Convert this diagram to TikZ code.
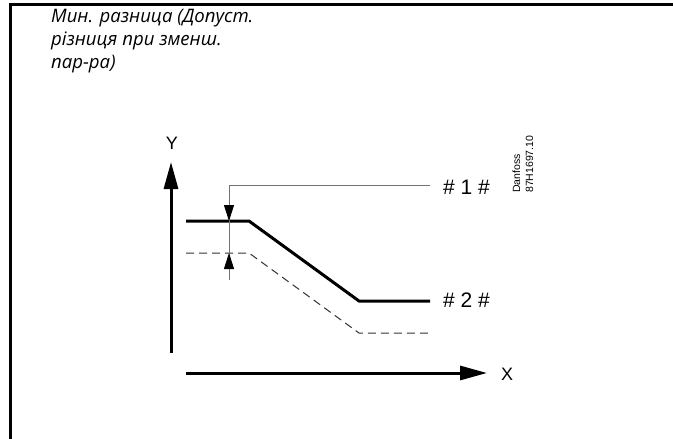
\documentclass[tikz,border=0pt]{standalone}
\usepackage{fontspec}
\setmainfont{Liberation Sans}
\newfontfamily\titlefont{Open Sans}
\usetikzlibrary{arrows.meta}

\begin{document}
\begin{tikzpicture}[x=1pt,y=-1pt,
    axis/.style={line width=3pt,-{Triangle[length=27pt,width=14pt]}},
    curve/.style={line width=3pt},
    lowcurve/.style={line width=1pt,black!80,dash pattern=on 8pt off 5pt},
    leader/.style={line width=1pt,black!55},
    marker/.style={line width=1pt,black!55,-{Triangle[length=16pt,width=10pt,black]}},
    every node/.style={inner sep=0pt}]
    \useasboundingbox (0,0) rectangle (673,439);
    % frame
    \draw[line width=3pt] (10,439) -- (10,4.5) -- (673,4.5);
    \node[anchor=north west,align=left,font=\titlefont\itshape\fontsize{18.6}{23}\selectfont]
        (title) at (51,9.5) {Мин. разница (Допуст.\\різниця при зменш.\\пар-ра)};
    % axes
    \coordinate (y0) at (171,353);
    \coordinate (y1) at (171,162);
    \coordinate (x0) at (186,373);
    \coordinate (x1) at (487,373);
    \draw[axis] (y0) -- (y1);
    \draw[axis] (x0) -- (x1);
    \node[font=\fontsize{18}{18}\selectfont] (ylab) at (172,143) {Y};
    \node[font=\fontsize{18}{18}\selectfont] (xlab) at (507,374) {X};
    % curves
    \coordinate (s1) at (186,221);
    \coordinate (s2) at (249,221);
    \coordinate (s3) at (359,301);
    \coordinate (s4) at (430,301);
    \coordinate (d1) at (186,253);
    \coordinate (d2) at (249,253);
    \coordinate (d3) at (359,333);
    \coordinate (d4) at (430,333);
    \draw[curve] (s1)--(s2)--(s3)--(s4);
    \draw[lowcurve] (d1)--(d2)--(d3)--(d4);
    % difference marker
    \coordinate (l1) at (430,185);
    \coordinate (l2) at (229,185);
    \coordinate (l3) at (229,280);
    \coordinate (m1) at (229,221);
    \coordinate (m2) at (229,253);
    \draw[leader] (l1)--(l2)--(l3);
    \draw[marker] (l2)--(m1);
    \draw[marker] (l3)--(m2);
    \node[anchor=west,font=\fontsize{21}{21}\selectfont] (lab1) at (443,187) {\# 1 \#};
    \node[anchor=west,font=\fontsize{21}{21}\selectfont] (lab2) at (443,300) {\# 2 \#};
    \node[rotate=90,anchor=base west,font=\fontsize{10.5}{10.5}\selectfont] (maker) at (520,193) {Danfoss};
    \node[rotate=90,anchor=base west,font=\fontsize{10.5}{10.5}\selectfont] (code) at (533,193) {87H1697.10};
\end{tikzpicture}
\end{document}
